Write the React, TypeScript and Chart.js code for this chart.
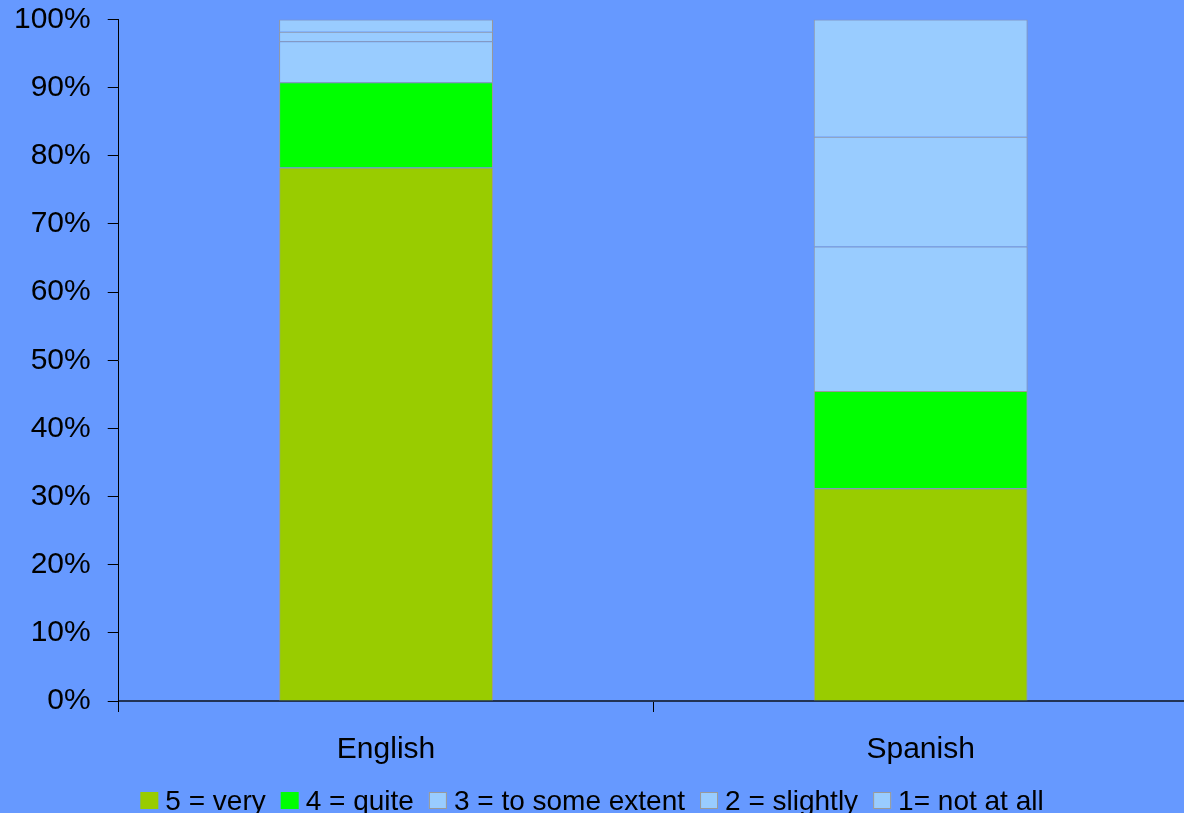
import React, { useEffect, useRef } from "react";
import { Chart, registerables } from "chart.js";

Chart.register(...registerables);

const categories = ["English", "Spanish"];
const seriesLabels = ["5 = very", "4 = quite", "3 = to some extent", "2 = slightly", "1= not at all"];
const very = [78.3, 31.2];
const quite = [12.5, 14.3];
const someExtent = [6.0, 21.2];
const slightly = [1.4, 16.1];
const notAtAll = [1.8, 17.2];
const seriesColors = ["#99CC00", "#00FF00", "#99CCFF", "#99CCFF", "#99CCFF"];
const legendBorder = [false, false, true, true, true];

const FONT = "'Liberation Sans', Arial, sans-serif";

const customLegend = {
  id: "customLegend",
  afterDraw(chart: any) {
    const ctx = chart.ctx;
    ctx.save();
    ctx.font = `28px ${FONT}`;
    const boxW = 18;
    const boxH = 17;
    const textGap = 7;
    const itemGap = 15;
    const items = chart.data.datasets.map((ds: any, i: number) => ({
      label: ds.label,
      color: ds.backgroundColor,
      border: legendBorder[i],
      w: ctx.measureText(ds.label).width,
    }));
    const total =
      items.reduce((s: number, it: any) => s + boxW + textGap + it.w, 0) + itemGap * (items.length - 1);
    let x = 592 - total / 2;
    const boxY = 792;
    const baseY = 810;
    ctx.textBaseline = "alphabetic";
    ctx.textAlign = "left";
    for (const it of items) {
      ctx.fillStyle = it.color;
      ctx.fillRect(x, boxY, boxW, boxH);
      if (it.border) {
        ctx.strokeStyle = "#999999";
        ctx.lineWidth = 1;
        ctx.strokeRect(x + 0.5, boxY + 0.5, boxW - 1, boxH - 1);
      }
      ctx.fillStyle = "#000000";
      ctx.fillText(it.label, x + boxW + textGap, baseY);
      x += boxW + textGap + it.w + itemGap;
    }
    ctx.restore();
  },
};

export default function App() {
  const canvasRef = useRef<HTMLCanvasElement | null>(null);

  useEffect(() => {
    document.body.style.overflow = "hidden";
    document.body.style.background = "#6699FF";
    const values = [very, quite, someExtent, slightly, notAtAll];
    const chart = new Chart(canvasRef.current as HTMLCanvasElement, {
      type: "bar",
      data: {
        labels: categories,
        datasets: values.map((v, i) => ({
          label: seriesLabels[i],
          data: v,
          backgroundColor: seriesColors[i],
          borderColor: "#999999",
          borderWidth: 1,
          barPercentage: 0.4,
          categoryPercentage: 1,
        })),
      },
      options: {
        animation: false,
        responsive: true,
        maintainAspectRatio: false,
        layout: { padding: { top: 19.5, left: -3, right: 0, bottom: 25 } },
        plugins: { legend: { display: false }, tooltip: { enabled: false } },
        scales: {
          x: {
            stacked: true,
            grid: {
              display: true,
              drawOnChartArea: false,
              drawTicks: true,
              tickLength: 11,
              color: "#000000",
              offset: true,
            },
            border: { display: true, color: "#223355", width: 2 },
            ticks: { color: "#000000", font: { family: FONT, size: 30 }, padding: 20 },
          },
          y: {
            stacked: true,
            min: 0,
            max: 100,
            afterFit: (s: any) => {
              s.paddingTop = 0;
              s.paddingBottom = 0;
            },
            grid: {
              display: true,
              drawOnChartArea: false,
              drawTicks: true,
              tickLength: 11,
              color: "#000000",
            },
            border: { display: true, color: "#000000", width: 1 },
            ticks: {
              stepSize: 10,
              color: "#000000",
              font: { family: FONT, size: 30 },
              padding: 17,
              callback: (v: any) => `${v}%`,
            },
          },
        },
      },
      plugins: [customLegend],
    });
    return () => chart.destroy();
  }, []);

  return (
    <div
      style={{
        position: "fixed",
        left: 0,
        top: 0,
        width: 1188,
        height: 813,
        background: "#6699FF",
      }}
    >
      <canvas ref={canvasRef} />
    </div>
  );
}
